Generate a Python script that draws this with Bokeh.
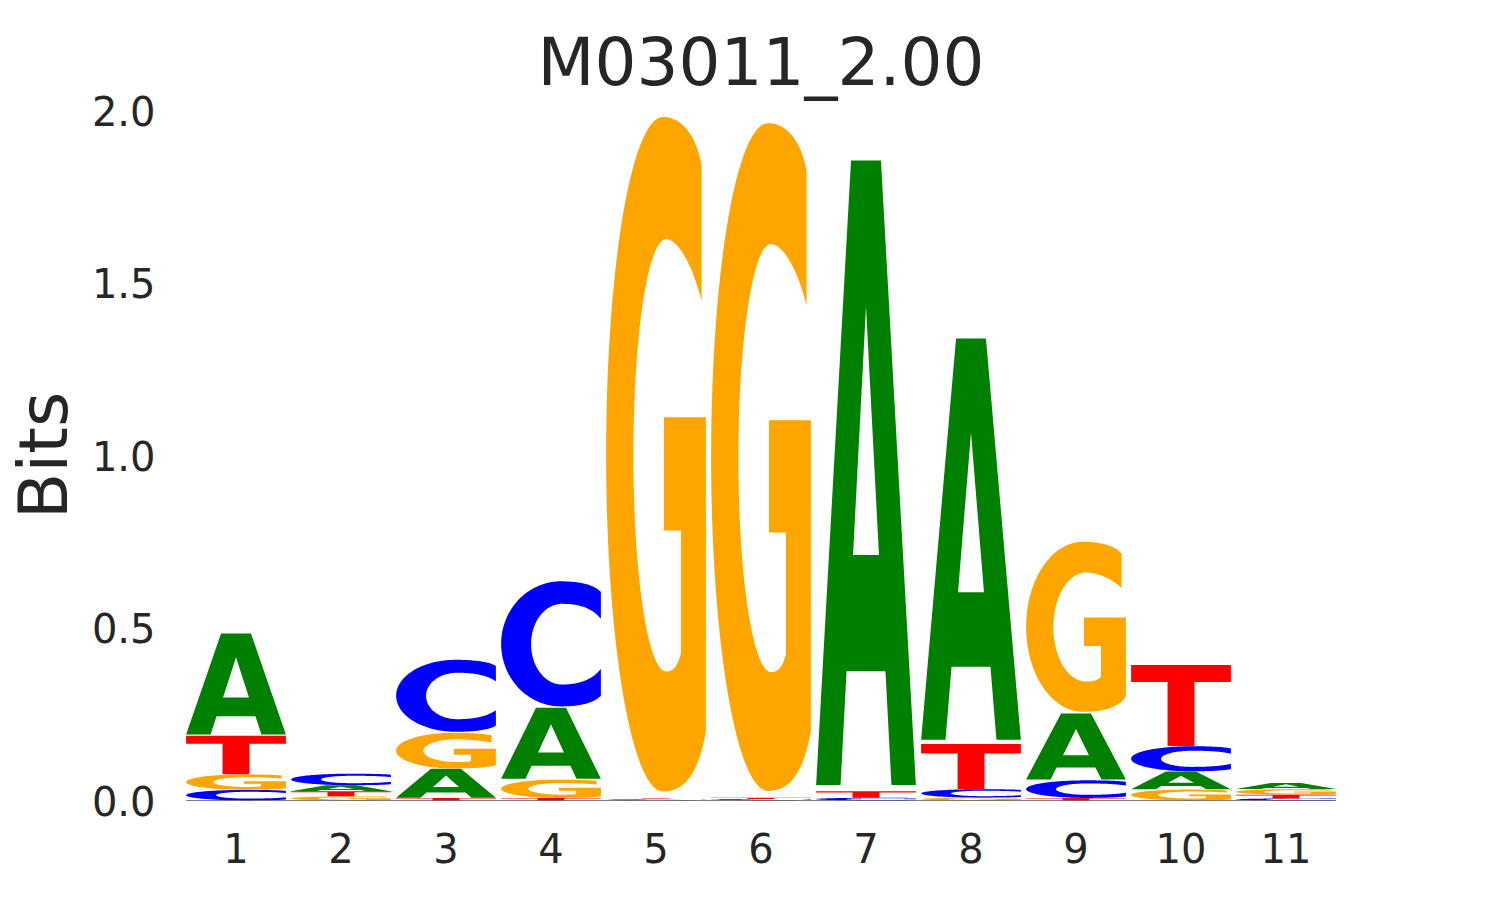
import numpy as np
from bokeh.plotting import figure
from bokeh.models import FixedTicker, Range1d, PrintfTickFormatter, ColumnDataSource
from bokeh.embed import file_html
from bokeh.resources import INLINE

# ---------------- data ----------------
title_text = "M03011_2.00"
positions = [1, 2, 3, 4, 5, 6, 7, 8, 9, 10, 11]
bits_A = [0.296, 0.017, 0.085, 0.208, 0.002, 0.001, 1.828, 1.175, 0.193, 0.052, 0.018]
bits_C = [0.031, 0.034, 0.213, 0.370, 0.002, 0.003, 0.008, 0.025, 0.052, 0.074, 0.006]
bits_G = [0.045, 0.012, 0.105, 0.054, 1.995, 1.975, 0.000, 0.008, 0.503, 0.032, 0.016]
bits_T = [0.112, 0.015, 0.007, 0.007, 0.002, 0.004, 0.019, 0.131, 0.007, 0.235, 0.011]
y_ticks = [0.0, 0.5, 1.0, 1.5, 2.0]
letters = ["A", "C", "G", "T"]
colors = {"A": "green", "C": "blue", "G": "orange", "T": "red"}

# ---------------- letter outlines (unit box) ----------------
def bez(p0, p1, p2, p3, n=40):
    t = np.linspace(0, 1, n)
    x = (1-t)**3*p0[0] + 3*(1-t)**2*t*p1[0] + 3*(1-t)*t**2*p2[0] + t**3*p3[0]
    y = (1-t)**3*p0[1] + 3*(1-t)**2*t*p1[1] + 3*(1-t)*t**2*p2[1] + t**3*p3[1]
    return list(x), list(y)

def arc(cx, cy, rx, ry, a0, a1, n=80):
    a = np.radians(np.linspace(a0, a1, n))
    return list(cx + rx*np.cos(a)), list(cy + ry*np.sin(a))

def join(parts):
    xs, ys = [], []
    for px, py in parts:
        xs += list(px); ys += list(py)
    return xs, ys

def shape_C():
    parts = [
        bez((1.0, 0.914), (0.93, 0.975), (0.78, 1.0), (0.6, 1.0)),
        arc(0.6, 0.5, 0.6, 0.5, 90, 270),
        bez((0.6, 0.0), (0.78, 0.0), (0.93, 0.025), (1.0, 0.086)),
        ([1.0], [0.30]),
        bez((1.0, 0.30), (0.9, 0.2), (0.75, 0.175), (0.61, 0.175)),
        arc(0.61, 0.4975, 0.31, 0.3225, 270, 90),
        bez((0.61, 0.82), (0.75, 0.82), (0.9, 0.8), (1.0, 0.70)),
    ]
    x, y = join(parts)
    y = [0.01 + 0.98*v for v in y]
    return [(x, y)]

def shape_G():
    parts = [
        bez((0.957, 0.928), (0.9, 0.975), (0.75, 1.0), (0.57, 1.0)),
        arc(0.57, 0.5, 0.57, 0.5, 90, 270),
        bez((0.57, 0.0), (0.8, 0.0), (0.93, 0.03), (1.0, 0.09)),
        ([1.0, 0.58, 0.58, 0.75, 0.75], [0.555, 0.555, 0.387, 0.387, 0.205]),
        bez((0.75, 0.205), (0.71, 0.182), (0.66, 0.178), (0.6, 0.178)),
        arc(0.6, 0.4985, 0.327, 0.3205, 270, 90),
        bez((0.6, 0.819), (0.7, 0.819), (0.85, 0.79), (0.957, 0.727)),
    ]
    x, y = join(parts)
    y = [0.01 + 0.98*v for v in y]
    return [(x, y)]

def shape_A():
    ox = [0.0, 0.245, 0.305, 0.695, 0.755, 1.0, 0.65, 0.35]
    oy = [0.0, 0.0, 0.182, 0.182, 0.0, 0.0, 1.0, 1.0]
    hx = [0.37, 0.63, 0.5]
    hy = [0.368, 0.368, 0.766]
    oy = [0.01 + 0.99*v for v in oy]
    hy = [0.01 + 0.99*v for v in hy]
    return [(ox, oy), (hx, hy)]

def shape_T():
    x = [0.0, 1.0, 1.0, 0.635, 0.635, 0.365, 0.365, 0.0]
    y = [1.0, 1.0, 0.79, 0.79, 0.0, 0.0, 0.79, 0.79]
    return [(x, y)]

shapes = {"A": shape_A(), "C": shape_C(), "G": shape_G(), "T": shape_T()}
values = {"A": bits_A, "C": bits_C, "G": bits_G, "T": bits_T}
letter_width = 0.95

# ---------------- figure ----------------
p = figure(frame_width=1155, frame_height=690,
           x_range=Range1d(0.5, 11.5), y_range=Range1d(0.0, 2.0),
           output_backend="svg", toolbar_location=None,
           min_border_left=165, min_border_right=138,
           min_border_top=110, min_border_bottom=84)

data = {L: dict(xs=[], ys=[]) for L in letters}
for i, pos in enumerate(positions):
    hs = [(values[L][i], L) for L in letters]
    hs.sort(key=lambda t: t[0])
    bottom = 0.0
    for h, L in hs:
        if h > 0:
            polys_x, polys_y = [], []
            for (sx, sy) in shapes[L]:
                polys_x.append([pos - letter_width/2 + letter_width*v for v in sx])
                polys_y.append([bottom + h*v for v in sy])
            data[L]["xs"].append([polys_x])
            data[L]["ys"].append([polys_y])
        bottom += h

for L in letters:
    src = ColumnDataSource(data[L])
    p.multi_polygons(xs="xs", ys="ys", source=src, fill_color=colors[L],
                     line_color=None)

# baseline
p.line([positions[0] - letter_width/2, positions[-1] + letter_width/2], [0, 0],
       line_color="black", line_width=1.2)

text_color = "#262626"
font = "DejaVu Sans"

p.title.text = title_text
p.title.align = "center"
p.title.text_font = font
p.title.text_font_size = "66px"
p.title.text_font_style = "normal"
p.title.text_color = text_color
p.title.standoff = 19

p.xaxis.ticker = FixedTicker(ticks=positions)
p.yaxis.ticker = FixedTicker(ticks=y_ticks)
p.yaxis.formatter = PrintfTickFormatter(format="%.1f")
for ax in (p.xaxis, p.yaxis):
    ax.axis_line_color = None
    ax.major_tick_line_color = None
    ax.minor_tick_line_color = None
    ax.major_label_text_font = font
    ax.major_label_text_font_size = "40px"
    ax.major_label_text_color = text_color
p.xaxis.major_label_standoff = 26
p.yaxis.major_label_standoff = 22
p.yaxis.axis_label = "Bits"
p.yaxis.axis_label_text_font = font
p.yaxis.axis_label_text_font_size = "68px"
p.yaxis.axis_label_text_font_style = "normal"
p.yaxis.axis_label_text_color = text_color
p.yaxis.axis_label_standoff = 6

p.xgrid.visible = False
p.ygrid.visible = False
p.outline_line_color = None
p.background_fill_color = "white"
p.border_fill_color = "white"

open("out.html", "w").write(file_html(p, INLINE))
